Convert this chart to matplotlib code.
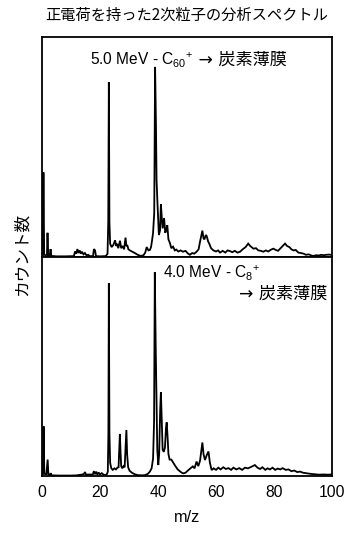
import numpy as np
import matplotlib
matplotlib.use("Agg")
import matplotlib.pyplot as plt

# ---------------- data ----------------
title = "正電荷を持った2次粒子の分析スペクトル"
ylabel = "カウント数"
xlabel = "m/z"
label_top = "5.0 MeV - C$_{60}{}^{+}$"
label_top_tail = " → 炭素薄膜"
label_bot = "4.0 MeV - C$_{8}{}^{+}$"
label_bot_tail = "→ 炭素薄膜"
xticks = [0, 20, 40, 60, 80, 100]

# (m/z, counts in % of panel height)
spectrum_top = [
    (0.0, 0.5), (0.3, 1.0), (0.5, 38.5), (0.75, 1.0), (1.2, 0.8), (1.7, 1.0),
    (1.9, 11.0), (2.15, 0.8), (2.7, 0.6), (2.95, 3.6), (3.2, 0.5), (5.0, 0.3),
    (8.0, 0.3), (11.0, 0.4), (11.4, 2.5), (11.8, 1.5), (12.2, 3.6), (12.6, 1.8),
    (13.0, 3.0), (13.4, 1.5), (13.8, 2.4), (14.3, 1.2), (14.8, 1.8), (15.3, 0.8),
    (15.9, 1.0), (16.5, 0.4), (17.6, 0.4), (17.9, 3.6), (18.3, 3.0), (18.6, 0.4),
    (20.0, 0.3), (22.0, 0.4), (22.6, 1.5), (22.85, 16.0), (23.05, 79.5),
    (23.25, 16.0), (23.5, 6.0), (24.0, 4.5), (24.6, 5.5), (25.2, 7.6), (25.6, 5.0),
    (25.9, 6.0), (26.3, 4.0), (26.9, 7.4), (27.3, 4.0), (27.8, 5.0), (28.3, 3.5),
    (28.8, 8.8), (29.1, 5.0), (29.4, 5.4), (29.8, 3.5), (30.3, 3.0), (31.0, 2.5),
    (32.0, 1.8), (33.0, 1.0), (34.0, 0.5), (35.0, 0.8), (35.6, 2.0), (36.1, 4.5),
    (36.7, 3.0), (37.2, 3.2), (37.6, 4.5), (38.0, 8.0), (38.3, 11.0), (38.7, 20.0),
    (39.0, 86.4), (39.3, 60.0), (39.5, 35.0), (39.8, 25.0), (40.3, 10.0),
    (40.7, 12.0), (41.0, 24.0), (41.3, 18.0), (41.6, 13.0), (42.1, 17.7),
    (42.5, 11.0), (42.8, 12.0), (43.2, 14.5), (43.6, 8.0), (44.1, 6.4), (44.6, 4.0),
    (45.2, 4.7), (45.8, 3.0), (46.3, 3.4), (47.0, 2.5), (47.8, 3.0), (48.6, 2.4),
    (49.5, 2.8), (50.3, 1.6), (51.0, 1.0), (51.8, 1.8), (52.5, 1.5), (53.3, 2.4),
    (54.0, 3.5), (54.5, 7.0), (55.0, 10.0), (55.3, 12.0), (55.7, 8.5), (56.0, 8.0),
    (56.5, 10.0), (56.8, 9.5), (57.3, 7.0), (57.7, 6.0), (58.3, 4.0), (59.1, 3.0),
    (60.0, 2.5), (60.7, 3.0), (61.4, 2.0), (62.3, 2.8), (63.2, 2.0), (64.0, 3.0),
    (64.8, 2.7), (65.6, 2.2), (66.5, 2.8), (67.4, 2.0), (68.3, 2.4), (69.2, 3.5),
    (70.2, 4.5), (71.1, 6.1), (71.8, 5.0), (72.9, 3.8), (73.8, 4.0), (74.6, 3.0),
    (75.5, 2.8), (76.3, 2.4), (77.2, 3.0), (78.0, 2.5), (78.9, 3.3), (79.8, 3.8),
    (80.6, 3.2), (81.4, 2.8), (82.3, 4.0), (83.0, 5.0), (83.8, 6.1), (84.5, 5.0),
    (85.3, 4.5), (86.0, 3.5), (86.7, 3.0), (87.5, 3.2), (88.4, 2.0), (89.3, 1.8),
    (90.2, 1.5), (91.0, 1.0), (92.0, 1.2), (93.0, 0.6), (93.6, 0.5), (94.5, 0.8),
    (95.5, 0.7), (96.3, 1.0), (97.1, 0.8), (98.0, 1.0), (99.0, 1.1), (100.0, 0.9),
]

spectrum_bottom = [
    (0.0, 0.5), (0.3, 1.0), (0.55, 22.7), (0.8, 1.0), (1.5, 0.8), (1.95, 7.5),
    (2.2, 0.8), (2.8, 0.5), (3.0, 1.3), (3.3, 0.3), (6.0, 0.2), (10.0, 0.2),
    (12.0, 0.3), (13.5, 0.6), (14.4, 0.8), (14.8, 1.8), (15.2, 0.6), (16.5, 0.7),
    (17.5, 0.6), (17.9, 2.2), (18.3, 0.8), (18.7, 2.0), (19.1, 0.6), (19.5, 1.6),
    (20.0, 0.7), (20.6, 1.3), (21.3, 0.5), (22.3, 0.6), (22.7, 2.0), (22.9, 20.0),
    (23.05, 88.0), (23.25, 20.0), (23.5, 6.0), (23.9, 3.5), (24.4, 2.8),
    (25.0, 3.5), (25.5, 3.0), (26.0, 3.8), (26.4, 4.0), (26.65, 12.0),
    (26.85, 19.2), (27.05, 12.0), (27.3, 4.5), (27.7, 3.5), (28.1, 4.5),
    (28.5, 4.0), (28.85, 14.0), (29.1, 21.0), (29.35, 10.0), (29.7, 4.0),
    (30.2, 2.4), (31.0, 1.5), (32.0, 0.8), (33.0, 0.4), (34.5, 0.3), (35.5, 0.4),
    (36.5, 1.0), (37.2, 2.0), (37.8, 3.5), (38.3, 8.0), (38.65, 25.0),
    (38.9, 93.0), (39.2, 60.0), (39.45, 37.0), (39.75, 12.0), (40.1, 5.0),
    (40.4, 10.0), (40.75, 30.0), (41.0, 38.3), (41.3, 25.0), (41.6, 12.0),
    (42.0, 11.0), (42.4, 13.0), (42.75, 22.0), (43.0, 24.5), (43.3, 18.0),
    (43.6, 10.0), (44.0, 7.5), (44.6, 7.5), (45.3, 6.0), (46.0, 4.5), (46.8, 3.0),
    (47.5, 2.2), (48.2, 1.5), (48.7, 1.2), (49.5, 1.5), (50.3, 2.5), (51.2, 3.5),
    (52.0, 4.4), (52.6, 3.5), (53.3, 6.6), (53.9, 4.5), (54.5, 7.0), (55.0, 12.0),
    (55.3, 15.3), (55.7, 10.0), (56.2, 7.3), (56.8, 9.5), (57.4, 11.2),
    (57.9, 6.0), (58.5, 2.7), (59.2, 3.5), (60.0, 2.8), (60.8, 3.8), (61.6, 3.0),
    (62.5, 4.0), (63.4, 3.2), (64.3, 3.6), (65.2, 2.8), (66.0, 3.8), (67.0, 3.0),
    (68.0, 3.6), (69.0, 2.8), (70.0, 3.8), (71.0, 3.5), (72.2, 4.2), (73.4, 5.0),
    (74.3, 3.8), (75.2, 3.2), (76.0, 4.0), (77.0, 2.8), (77.8, 3.5), (78.6, 3.0),
    (79.5, 3.8), (80.4, 2.8), (81.3, 3.4), (82.2, 3.0), (83.0, 3.6), (84.0, 2.8),
    (85.0, 3.0), (86.0, 2.2), (87.0, 2.5), (88.0, 1.8), (89.0, 2.0), (90.0, 1.5),
    (91.0, 1.3), (92.5, 1.0), (94.0, 0.8), (95.5, 0.6), (97.0, 0.7), (98.5, 0.6),
    (100.0, 0.7),
]

mz_top, counts_top = map(np.array, zip(*spectrum_top))
mz_bot, counts_bot = map(np.array, zip(*spectrum_bottom))

# ---------------- style ----------------
plt.rcParams["mathtext.fontset"] = "custom"
plt.rcParams["mathtext.rm"] = "Liberation Sans"
plt.rcParams["mathtext.it"] = "Liberation Sans:italic"
plt.rcParams["mathtext.bf"] = "Liberation Sans:bold"
LAT = ["Liberation Sans", "Noto Sans CJK JP", "DejaVu Sans"]
CJK = ["Noto Sans CJK JP", "Liberation Sans", "DejaVu Sans"]
ARROW = ["DejaVu Sans", "Noto Sans CJK JP"]
plt.rcParams["font.family"] = LAT

W, H = 348, 535
fig = plt.figure(figsize=(W / 100, H / 100), dpi=100)

left = 42 / W
width = (332 - 42) / W
ax_top = fig.add_axes([left, (H - 257) / H, width, 220 / H])
ax_bot = fig.add_axes([left, (H - 476) / H, width, 219 / H])

for ax, mz, c in ((ax_top, mz_top, counts_top), (ax_bot, mz_bot, counts_bot)):
    ax.plot(mz, c, color="black", lw=1.3, solid_joinstyle="miter")
    ax.set_xlim(0, 100)
    ax.set_ylim(0, 100)
    ax.set_yticks([])
    ax.set_xticks(xticks)
    ax.tick_params(axis="x", length=0, pad=6.5, labelsize=11.3)
    for s in ax.spines.values():
        s.set_linewidth(1.3)

ax_top.tick_params(axis="x", labelbottom=False)
ax_bot.set_xlabel(xlabel, fontsize=11.8, labelpad=7)

# annotations
t1 = ax_top.text(16.6, 87.3, label_top, fontsize=11.2, ha="left", va="baseline")
fig.canvas.draw()
bb = t1.get_window_extent()
x_tail = ax_top.transData.inverted().transform((bb.x1, 0))[0]
ax_top.text(x_tail, 87.3, label_top_tail, fontsize=12.3, ha="left",
            va="baseline", family=ARROW)

ax_bot.text(41.7, 90.3, label_bot, fontsize=11.2, ha="left", va="baseline")
ax_bot.text(98.3, 81.0, label_bot_tail, fontsize=12.3, ha="right",
            va="baseline", family=ARROW)

fig.text(187 / W, 1 - 15 / H, title, fontsize=11, ha="center", va="center",
         family=CJK)
fig.text(22 / W, 1 - 254 / H, ylabel, fontsize=12, ha="center", va="center",
         rotation=90, family=CJK)

fig.savefig("out.png", dpi=100)
